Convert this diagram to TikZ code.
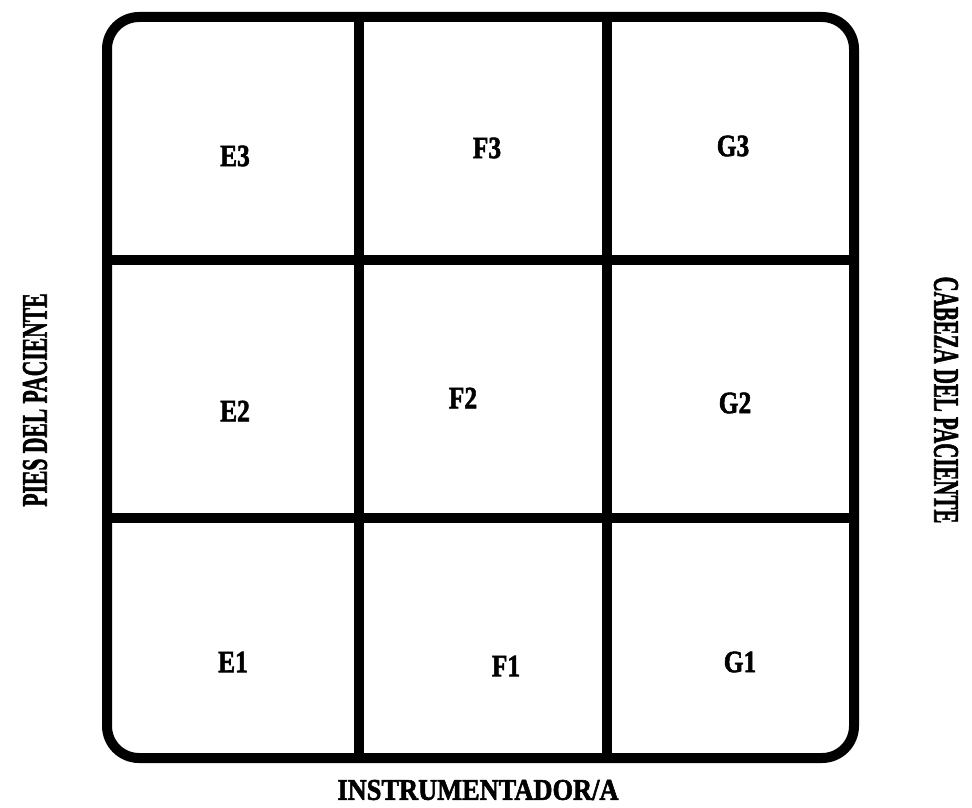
\documentclass[tikz,border=0pt]{standalone}
\usepackage{fontspec}
\setmainfont[BoldFeatures={FakeBold=2}]{Liberation Serif}
\usepackage{tikz}
\usetikzlibrary{calc,positioning}
\tikzset{
  celda/.style={font=\bfseries\fontsize{31}{31}\selectfont, xscale=0.82, inner sep=0pt},
  lado/.style={font=\bfseries\fontsize{36}{36}\selectfont, inner sep=0pt},
}
\begin{document}
\begin{tikzpicture}[x=1pt,y=-1pt]
            \useasboundingbox (0,0) rectangle (972,808);
            \def\xa{107}
            \def\xb{359}
            \def\xc{607}
            \def\xd{854}
            \def\ya{17}
            \def\yb{260}
            \def\yc{518}
            \def\yd{758}
            \coordinate (so) at (\xa, \ya);
            \coordinate (ie) at (\xd, \yd);
            \draw[line width=10pt, rounded corners=32pt] (so) rectangle (ie);
            \draw[line width=10pt] (\xb, \ya) -- (\xb, \yd);
            \draw[line width=10pt] (\xc, \ya) -- (\xc, \yd);
            \draw[line width=10pt] (\xa, \yb) -- (\xd, \yb);
            \draw[line width=10pt] (\xa, \yc) -- (\xd, \yc);
            % casillas
            \node[celda] (e3) at (235,156) {E3};
            \node[celda] (f3) at (487,148) {F3};
            \node[celda] (g3) at (733,146) {G3};
            \node[celda] (e2) at (235,411) {E2};
            \node[celda] (f2) at (463,398) {F2};
            \node[celda] (g2) at (735,403) {G2};
            \node[celda] (e1) at (233,662) {E1};
            \node[celda] (f1) at (506,666) {F1};
            \node[celda] (g1) at (740,662) {G1};
            % lados
            \node[lado, rotate=90, xscale=0.6] (pies) at (35,400) {PIES DEL PACIENTE};
            \node[lado, rotate=-90, xscale=0.58] (cabeza) at (946,400) {CABEZA DEL PACIENTE};
            \node[lado, xscale=0.88, font=\bfseries\fontsize{30}{30}\selectfont] (instr) at (478,790) {INSTRUMENTADOR/A};
          \end{tikzpicture}
\end{document}
